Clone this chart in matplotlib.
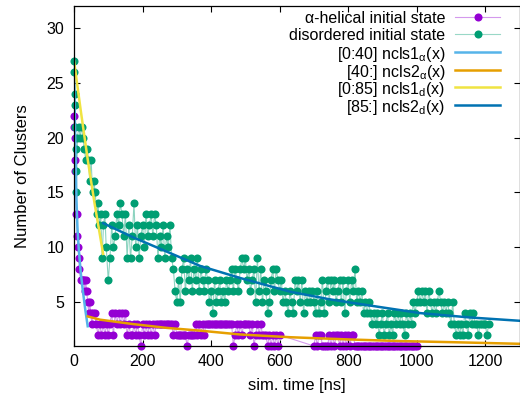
import matplotlib
matplotlib.use('Agg')
import matplotlib.pyplot as plt
import numpy as np

plt.rcParams['font.family'] = ['Liberation Sans', 'DejaVu Sans']
plt.rcParams['font.size'] = 11.5
plt.rcParams['mathtext.fontset'] = 'custom'
plt.rcParams['mathtext.rm'] = 'Liberation Sans'
plt.rcParams['mathtext.it'] = 'Liberation Sans:italic'

# alpha-helical initial state (number of clusters vs time in ns)
alpha_t_early = [0, 1, 2, 3, 4, 6, 8, 10, 12, 14, 16, 19, 22, 25, 28, 31, 34, 37, 40, 43, 46, 49, 52, 55]
alpha_n_early = [22, 21, 20, 18, 17, 13, 13, 11, 10, 9, 8, 7, 7, 7, 7, 6, 7, 6, 5, 4, 5, 4, 3, 4]
# sampled every 5 ns from 60 to 600
alpha_n_mid = [4, 3, 2, 3, 2, 3, 2, 3, 2, 3,
               4, 2, 4, 3, 4, 3, 4, 3, 4, 2,
               3, 2, 2, 3, 2, 3, 2, 1, 3, 2,
               3, 2, 3, 2, 3, 2, 3, 3, 3, 3,
               3, 3, 3, 3, 3, 3, 2, 3, 2, 2,
               2, 2, 2, 2, 1, 2, 2, 2, 2, 3,
               2, 3, 2, 3, 2, 3, 3, 3, 3, 3,
               3, 3, 3, 3, 3, 3, 3, 3, 3, 3,
               3, 1, 2, 3, 2, 3, 2, 3, 3, 3,
               3, 2, 3, 1, 2, 3, 2, 3, 2, 2,
               2, 1, 2, 1, 2, 1, 2, 1, 2]
# sampled every 5 ns from 700 to 1000
alpha_n_late = [1, 2, 1, 2, 2, 1, 1, 1, 1, 2,
                1, 2, 1, 2, 2, 1, 2, 1, 2, 1,
                2, 1, 2, 2, 1, 1, 1, 1, 1, 1,
                1, 1, 1, 1, 1, 1, 1, 1, 1, 1,
                1, 1, 1, 1, 1, 1, 1, 1, 1, 1,
                1, 1, 1, 1, 1, 1, 1, 1, 1, 1,
                1]

# disordered initial state
dis_t_early = [0, 1, 2, 3, 4, 5, 6, 7, 10, 14, 18, 22, 26, 30, 34, 38, 42, 46, 50, 54, 58, 62, 66, 70, 74, 78, 82, 86, 90, 94]
dis_n_early = [27, 26, 24, 23, 21, 19, 17, 15, 20, 21, 20, 21, 20, 19, 18, 19, 18, 16, 18, 15, 16, 15, 13, 14, 12, 13, 9, 12, 13, 10]
# sampled every 5 ns from 100 to 1210
dis_n_main = [7, 9, 12, 10, 11, 13, 12, 14, 13, 11,
              13, 9, 12, 9, 11, 14, 10, 12, 9, 11,
              12, 10, 13, 11, 12, 13, 11, 13, 12, 9,
              11, 10, 12, 9, 11, 10, 12, 9, 8, 6,
              5, 7, 5, 8, 9, 6, 8, 7, 9, 6,
              8, 7, 9, 6, 8, 7, 6, 8, 7, 5,
              6, 4, 7, 5, 6, 7, 5, 6, 5, 7,
              6, 7, 8, 6, 8, 7, 6, 8, 9, 8,
              9, 7, 8, 6, 7, 8, 5, 9, 6, 8,
              5, 7, 6, 4, 5, 7, 8, 6, 8, 7,
              6, 7, 5, 6, 5, 4, 6, 5, 4, 7,
              6, 7, 5, 7, 4, 6, 5, 6, 5, 6,
              5, 4, 6, 4, 5, 7, 4, 6, 7, 5,
              7, 6, 7, 5, 6, 7, 5, 7, 4, 6,
              7, 5, 7, 6, 8, 5, 6, 5, 6, 4,
              5, 4, 5, 4, 3, 4, 3, 4, 2, 3,
              4, 2, 3, 4, 2, 3, 2, 4, 3, 4,
              3, 4, 3, 2, 4, 3, 4, 3, 5, 4,
              5, 6, 5, 6, 5, 6, 4, 6, 5, 4,
              5, 4, 5, 6, 5, 4, 5, 4, 5, 4,
              3, 5, 3, 2, 3, 2, 3, 2, 4, 3,
              2, 4, 3, 4, 3, 3, 2, 3, 3, 3,
              3, 2, 3]

# fitted curves
fit1a_x = [0, 2, 4, 7, 10, 14, 20, 26, 33, 40]
fit1a_y = [27.0, 22.5, 19.0, 14.5, 11.8, 9.8, 7.6, 6.0, 4.3, 2.8]
fit2a_x = [40, 76, 172, 271, 368, 485, 631, 800, 952, 1100, 1300]
fit2a_y = [3.7, 3.4, 3.0, 2.65, 2.4, 2.05, 1.8, 1.6, 1.45, 1.35, 1.2]
fit1d_x = [0, 20, 40, 60, 85]
fit1d_y = [27.0, 22.4, 18.0, 14.0, 9.4]
fit2d_x = [85, 173, 271, 368, 485, 631, 747, 893, 1010, 1156, 1300]
fit2d_y = [12.2, 10.9, 9.6, 8.3, 7.2, 5.95, 5.25, 4.55, 4.0, 3.6, 3.3]

alpha_t = np.concatenate([alpha_t_early, np.arange(60, 601, 5), np.arange(700, 1001, 5)])
alpha_n = np.concatenate([alpha_n_early, alpha_n_mid, alpha_n_late])
dis_t = np.concatenate([dis_t_early, np.arange(100, 1211, 5)])
dis_n = np.concatenate([dis_n_early, dis_n_main])

purple = '#9400d3'
green = '#009e73'
c_fit1a = '#56b4e9'
c_fit2a = '#e69f00'
c_fit1d = '#f0e442'
c_fit2d = '#0072b2'
dot = 5.8

fig = plt.figure(figsize=(5.2, 3.95), dpi=100)
ax = fig.add_axes([74 / 520, 49 / 395, 445.5 / 520, 340 / 395])

# data series: thin light line plus dots
ax.plot(alpha_t, alpha_n, '-', color=purple, alpha=0.4, lw=0.8, clip_on=False)
ax.plot(alpha_t, alpha_n, 'o', color=purple, ms=dot, mew=0, clip_on=False)
ax.plot(dis_t, dis_n, '-', color=green, alpha=0.45, lw=0.8, clip_on=False)
ax.plot(dis_t, dis_n, 'o', color=green, ms=dot, mew=0, clip_on=False)

# fits
ax.plot(fit1a_x, fit1a_y, '-', color=c_fit1a, lw=1.8)
ax.plot(fit2a_x, fit2a_y, '-', color=c_fit2a, lw=1.8)
ax.plot(fit1d_x, fit1d_y, '-', color=c_fit1d, lw=1.8)
ax.plot(fit2d_x, fit2d_y, '-', color=c_fit2d, lw=1.8)

ax.set_xlim(0, 1300)
ax.set_ylim(1, 32)
ax.set_xticks([0, 200, 400, 600, 800, 1000, 1200])
ax.set_yticks([5, 10, 15, 20, 25, 30])
ax.tick_params(direction='in', top=True, right=True, length=4, width=0.8)
ax.tick_params(axis='x', pad=6)
ax.tick_params(axis='y', pad=7)
for s in ax.spines.values():
    s.set_linewidth(0.9)

ax.set_xlabel('sim. time [ns]', fontsize=12, labelpad=6)
ax.set_ylabel('Number of Clusters', fontsize=12, labelpad=12)

# gnuplot-style key, text right aligned, samples on the right
key_labels = ['α-helical initial state', 'disordered initial state',
              r'[0:40] ncls1$_\mathrm{α}$(x)', r'[40:] ncls2$_\mathrm{α}$(x)',
              r'[0:85] ncls1$_\mathrm{d}$(x)', r'[85:] ncls2$_\mathrm{d}$(x)']
key_colors = [purple, green, c_fit1a, c_fit2a, c_fit1d, c_fit2d]
key_rows = [0.9676, 0.9168, 0.8638, 0.8118, 0.7609, 0.7088]
for i, (lab, col, yy) in enumerate(zip(key_labels, key_colors, key_rows)):
    ax.text(0.834, yy, lab, transform=ax.transAxes, ha='right', va='center_baseline')
    if i < 2:
        ax.plot([0.856, 0.957], [yy, yy], '-', color=col, alpha=0.4, lw=0.8,
                transform=ax.transAxes)
        ax.plot([0.906], [yy], 'o', color=col, ms=dot, mew=0, transform=ax.transAxes)
    else:
        ax.plot([0.856, 0.957], [yy, yy], '-', color=col, lw=1.8, transform=ax.transAxes)

fig.savefig('out.png', dpi=100)
